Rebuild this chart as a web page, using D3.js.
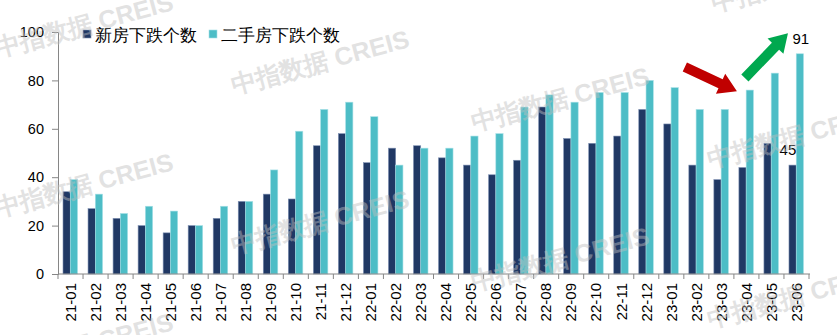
<!DOCTYPE html>
<html><head><meta charset="utf-8">
<script src="https://cdn.jsdelivr.net/npm/d3@7"></script>
<style>body{margin:0;background:#fff}svg{display:block}text{font-family:"Liberation Sans",Arial,sans-serif}</style>
</head><body><svg id="c" width="837" height="335"></svg>
<script>
const categories = ["21-01","21-02","21-03","21-04","21-05","21-06","21-07","21-08","21-09","21-10","21-11","21-12","22-01","22-02","22-03","22-04","22-05","22-06","22-07","22-08","22-09","22-10","22-11","22-12","23-01","23-02","23-03","23-04","23-05","23-06"];
const newHome = [34,27,23,20,17,20,23,30,33,31,53,58,46,52,53,48,45,41,47,69,56,54,57,68,62,45,39,44,54,45];
const secondHome = [39,33,25,28,26,20,28,30,43,59,68,71,65,45,52,52,57,58,69,74,71,75,75,80,77,68,68,76,83,91];
const seriesNames = ["新房下跌个数","二手房下跌个数"];
const yTicks = [0,20,40,60,80,100];

const svg = d3.select("#c");
const L = 58, R = 809, T = 32, B = 274;
const x = d3.scaleBand().domain(categories).range([L, R]);
const y = d3.scaleLinear().domain([0,100]).range([B, T]);
const colors = ["#203864","#4dbdc6"];
const strokes = ["#7f91b3","#a6e0e6"];
const step = x.step();
const bw = step*0.29, off = step*0.2;

// watermarks (behind)
const wm = [[84,25],[320,62],[560,99],[796,136],[84,185],[320,222],[560,259],[796,296],[84,345],[800,-20]];
const wg = svg.append("g").attr("pointer-events","none");

// bars
[newHome, secondHome].forEach((vals, s) => {
  svg.append("g").selectAll("rect").data(vals).join("rect")
    .attr("x", (d,i) => x(categories[i]) + off + s*bw)
    .attr("y", d => y(d))
    .attr("width", bw)
    .attr("height", d => y(0) - y(d))
    .attr("fill", colors[s])
    .attr("stroke", strokes[s]).attr("stroke-width", 0.6);
});

// y axis
const ya = svg.append("g").attr("transform", `translate(${L},0)`)
  .call(d3.axisLeft(y).tickValues(yTicks).tickSize(6).tickPadding(8));
ya.select(".domain").attr("stroke","#868686");
ya.selectAll(".tick line").attr("stroke","#868686");
ya.selectAll("text").attr("font-size","14.5px").attr("fill","#000").attr("font-family","Liberation Sans, Arial, sans-serif");

// x axis
const xa = svg.append("g").attr("transform", `translate(0,${B})`);
xa.append("line").attr("x1", L).attr("x2", R+1).attr("stroke","#868686");
xa.selectAll("line.tk").data(d3.range(categories.length+1)).join("line").attr("class","tk")
  .attr("x1", i => L + i*step).attr("x2", i => L + i*step)
  .attr("y1", 0).attr("y2", 5).attr("stroke","#868686");
xa.selectAll("text").data(categories).join("text")
  .attr("transform", d => `translate(${x(d)+step/2},9) rotate(-90)`)
  .attr("text-anchor","end").attr("dy","0.35em")
  .attr("font-size","15px").attr("fill","#000").text(d => d);

// legend
const lg = [{x:83,t:seriesNames[0]},{x:209,t:seriesNames[1]}];
lg.forEach((l,i) => {
  svg.append("rect").attr("x", l.x).attr("y", 30).attr("width", 8).attr("height", 8).attr("fill", colors[i])
    .attr("stroke", strokes[i]).attr("stroke-width", 0.6);
  svg.append("text").attr("x", l.x+12).attr("y", 41).attr("font-size","16.5px").attr("fill","#000")
    .attr("font-family","Noto Sans CJK SC, sans-serif").text(l.t);
});

// value labels
const last = categories.length-1;
svg.append("text").attr("x", x(categories[last]) + off + bw*1.5 + 1).attr("y", y(secondHome[last]) - 10)
  .attr("text-anchor","middle").attr("font-size","15px").text(secondHome[last]);
svg.append("text").attr("x", x(categories[last]) + 4).attr("y", y(newHome[last]) - 10)
  .attr("text-anchor","middle").attr("font-size","15px").text(newHome[last]);

// arrows
function arrow(x1,y1,x2,y2,color){
  const dx=x2-x1, dy=y2-y1, len=Math.hypot(dx,dy), ux=dx/len, uy=dy/len, px=-uy, py=ux;
  const sw=5, hw=11, hl=18;
  const bx=x2-ux*hl, by=y2-uy*hl;
  const pts=[[x1+px*sw,y1+py*sw],[bx+px*sw,by+py*sw],[bx+px*hw,by+py*hw],[x2,y2],[bx-px*hw,by-py*hw],[bx-px*sw,by-py*sw],[x1-px*sw,y1-py*sw]];
  svg.append("polygon").attr("points", pts.map(p=>p.join(",")).join(" ")).attr("fill",color);
}
arrow(x(categories[25])+1, y(85.5), x(categories[27])+3, y(75.5), "#c00000");
arrow(x(categories[27])+11, y(81), x(categories[29])+4, y(99.5), "#00a84f");

// watermarks drawn on top, translucent
wm.forEach(([cx,cy]) => {
  svg.append("text").attr("transform",`translate(${cx},${cy}) rotate(-15)`)
    .attr("text-anchor","middle").attr("dy","0.35em").attr("pointer-events","none")
    .attr("font-size","25px").attr("font-weight","bold").attr("fill","#bfbfbf").attr("opacity",0.45)
    .attr("font-family","Noto Sans CJK SC, sans-serif").text("中指数据 CREIS");
});
</script></body></html>
